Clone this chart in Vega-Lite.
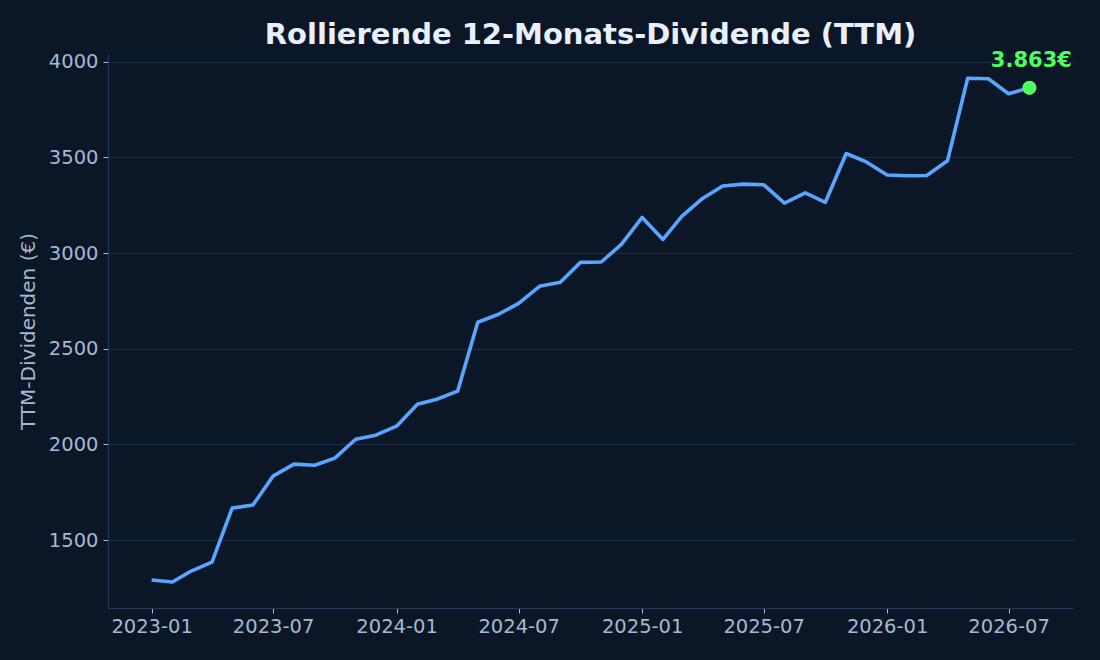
{
  "$schema": "https://vega.github.io/schema/vega-lite/v6.json",
  "width": 965,
  "height": 554,
  "autosize": {"type": "none"},
  "padding": {"left": 108, "top": 54, "right": 27, "bottom": 52},
  "background": "#0b1626",
  "title": {
    "text": "Rollierende 12-Monats-Dividende (TTM)",
    "font": "DejaVu Sans",
    "fontSize": 29,
    "fontWeight": "bold",
    "color": "#e8f0ff",
    "anchor": "middle",
    "offset": 0
  },
  "config": {
    "view": {"stroke": null},
    "font": "DejaVu Sans",
    "axis": {
      "labelFont": "DejaVu Sans",
      "labelFontSize": 19.5,
      "labelColor": "#a9b8d0",
      "titleFont": "DejaVu Sans",
      "titleFontSize": 20,
      "titleFontWeight": "normal",
      "titleColor": "#a9b8d0",
      "domainColor": "#24395a",
      "tickColor": "#a9b8d0",
      "tickSize": 5,
      "gridColor": "#1e2e48",
      "gridOpacity": 1
    }
  },
  "data": {
    "values": [
      {"date": "2023-01-01", "ttm": 1291},
      {"date": "2023-02-01", "ttm": 1281},
      {"date": "2023-03-01", "ttm": 1338},
      {"date": "2023-04-01", "ttm": 1385},
      {"date": "2023-05-01", "ttm": 1667},
      {"date": "2023-06-01", "ttm": 1683},
      {"date": "2023-07-01", "ttm": 1834},
      {"date": "2023-08-01", "ttm": 1897},
      {"date": "2023-09-01", "ttm": 1891},
      {"date": "2023-10-01", "ttm": 1928},
      {"date": "2023-11-01", "ttm": 2027},
      {"date": "2023-12-01", "ttm": 2048},
      {"date": "2024-01-01", "ttm": 2095},
      {"date": "2024-02-01", "ttm": 2210},
      {"date": "2024-03-01", "ttm": 2236},
      {"date": "2024-04-01", "ttm": 2278},
      {"date": "2024-05-01", "ttm": 2638},
      {"date": "2024-06-01", "ttm": 2680},
      {"date": "2024-07-01", "ttm": 2737},
      {"date": "2024-08-01", "ttm": 2826},
      {"date": "2024-09-01", "ttm": 2847},
      {"date": "2024-10-01", "ttm": 2951},
      {"date": "2024-11-01", "ttm": 2953},
      {"date": "2024-12-01", "ttm": 3045},
      {"date": "2025-01-01", "ttm": 3186},
      {"date": "2025-02-01", "ttm": 3071},
      {"date": "2025-03-01", "ttm": 3191},
      {"date": "2025-04-01", "ttm": 3285},
      {"date": "2025-05-01", "ttm": 3350},
      {"date": "2025-06-01", "ttm": 3360},
      {"date": "2025-07-01", "ttm": 3357},
      {"date": "2025-08-01", "ttm": 3261},
      {"date": "2025-09-01", "ttm": 3314},
      {"date": "2025-10-01", "ttm": 3265},
      {"date": "2025-11-01", "ttm": 3520},
      {"date": "2025-12-01", "ttm": 3476},
      {"date": "2026-01-01", "ttm": 3408},
      {"date": "2026-02-01", "ttm": 3404},
      {"date": "2026-03-01", "ttm": 3405},
      {"date": "2026-04-01", "ttm": 3482},
      {"date": "2026-05-01", "ttm": 3913},
      {"date": "2026-06-01", "ttm": 3911},
      {"date": "2026-07-01", "ttm": 3832},
      {"date": "2026-08-01", "ttm": 3863, "label": "3.863€", "last": true}
    ]
  },
  "encoding": {
    "x": {
      "field": "date",
      "type": "temporal",
      "scale": {
        "type": "utc",
        "domain": [
          {"year": 2022, "month": 10, "date": 28, "utc": true},
          {"year": 2026, "month": 10, "date": 5, "utc": true}
        ]
      },
      "axis": {
        "title": null,
        "format": "%Y-%m",
        "grid": false,
        "labelPadding": 4,
        "values": [
          {"year": 2023, "month": 1, "date": 1, "utc": true},
          {"year": 2023, "month": 7, "date": 1, "utc": true},
          {"year": 2024, "month": 1, "date": 1, "utc": true},
          {"year": 2024, "month": 7, "date": 1, "utc": true},
          {"year": 2025, "month": 1, "date": 1, "utc": true},
          {"year": 2025, "month": 7, "date": 1, "utc": true},
          {"year": 2026, "month": 1, "date": 1, "utc": true},
          {"year": 2026, "month": 7, "date": 1, "utc": true}
        ]
      }
    },
    "y": {
      "field": "ttm",
      "type": "quantitative",
      "scale": {"domain": [1145, 4040], "nice": false, "zero": false},
      "axis": {
        "title": "TTM-Dividenden (€)",
        "format": "d",
        "values": [1500, 2000, 2500, 3000, 3500, 4000],
        "labelPadding": 5,
        "titlePadding": 10
      }
    }
  },
  "layer": [
    {
      "mark": {"type": "line", "color": "#58a6ff", "strokeWidth": 3.6, "strokeJoin": "round"}
    },
    {
      "transform": [{"filter": "datum.last === true"}],
      "mark": {"type": "point", "filled": true, "color": "#4dff5e", "size": 200, "opacity": 1}
    },
    {
      "transform": [{"filter": "datum.last === true"}],
      "mark": {
        "type": "text",
        "color": "#4dff5e",
        "font": "DejaVu Sans",
        "fontSize": 21,
        "fontWeight": "bold",
        "dy": -27,
        "dx": 2,
        "align": "center",
        "baseline": "middle"
      },
      "encoding": {"text": {"field": "label"}}
    }
  ]
}
